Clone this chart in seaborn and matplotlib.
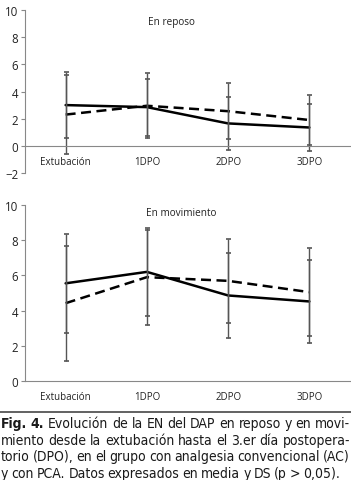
import matplotlib
matplotlib.use("Agg")
import matplotlib.pyplot as plt
import pandas as pd
import seaborn as sns

# data
categorias = ['Extubación', '1DPO', '2DPO', '3DPO']

reposo_ac = [3.0, 2.85, 1.65, 1.35]
reposo_ac_ds = [2.4, 2.1, 1.95, 1.75]
reposo_pca = [2.3, 2.95, 2.55, 1.9]
reposo_pca_ds = [2.9, 2.4, 2.08, 1.85]

mov_ac = [5.55, 6.2, 4.86, 4.52]
mov_ac_ds = [2.8, 2.48, 2.43, 2.35]
mov_pca = [4.42, 5.9, 5.69, 5.05]
mov_pca_ds = [3.26, 2.7, 2.38, 2.5]

caption = [
    'Evolución de la EN del DAP en reposo y en movi-',
    'miento desde la extubación hasta el 3.er día postopera-',
    'torio (DPO), en el grupo con analgesia convencional (AC)',
    'y con PCA. Datos expresados en media y DS (p > 0,05).',
]

sns.set_style('white')
plt.rcParams['font.family'] = ['Open Sans', 'DejaVu Sans']

W, H = 351, 481
fig = plt.figure(figsize=(W / 100, H / 100), dpi=100)


def panel(ax, ac, ac_ds, pca, pca_ds, titulo, ymin):
    df = pd.DataFrame({
        'pos': list(range(4)) * 2,
        'valor': ac + pca,
        'grupo': ['AC'] * 4 + ['PCA'] * 4,
    })
    sns.lineplot(data=df, x='pos', y='valor', style='grupo', ax=ax,
                 dashes={'AC': '', 'PCA': (4, 2.2)}, color='black',
                 linewidth=1.8, legend=False)
    for med, ds in [(ac, ac_ds), (pca, pca_ds)]:
        ax.errorbar(range(4), med, yerr=ds, fmt='none', ecolor='#555555',
                    elinewidth=1, capsize=1.8, capthick=1.2)
    ax.set_xlim(-0.5, 3.5)
    ax.set_ylim(ymin, 10)
    ax.set_yticks(range(ymin, 11, 2))
    ax.set_xticks(range(4))
    ax.set_xticklabels(categorias)
    ax.set_xticks([-0.5, 0.5, 1.5, 2.5, 3.5], minor=True)
    ax.tick_params(axis='x', which='major', length=0, pad=7, labelsize=7.0,
                   labelcolor='#222222')
    ax.tick_params(axis='x', which='minor', length=3, color='#888888', direction='out')
    ax.tick_params(axis='y', length=3, color='#888888', labelsize=8.3, pad=2,
                   left=True, labelcolor='#222222')
    ax.set_xlabel('')
    ax.set_ylabel('')
    for s in ['top', 'right']:
        ax.spines[s].set_visible(False)
    ax.spines['left'].set_color('#888888')
    ax.spines['bottom'].set_color('#888888')
    ax.spines['bottom'].set_position(('data', 0))
    ax.text(0.45 if ymin < 0 else 0.48, 0.93 if ymin < 0 else 0.96, titulo,
            transform=ax.transAxes, ha='center', va='center', fontsize=7.2,
            color='#222222')


ax1 = fig.add_axes([25 / W, (H - 174) / H, 325 / W, 163 / H])
panel(ax1, reposo_ac, reposo_ac_ds, reposo_pca, reposo_pca_ds, 'En reposo', -2)

ax2 = fig.add_axes([25 / W, (H - 382) / H, 325 / W, 176 / H])
panel(ax2, mov_ac, mov_ac_ds, mov_pca, mov_pca_ds, 'En movimiento', 0)

# separator line
fig.add_artist(plt.Line2D([0, 1], [1 - 413 / H, 1 - 413 / H], color='#555555', linewidth=1.3))

# caption, justified
cap_font = ['Liberation Sans Narrow', 'DejaVu Sans']
cap_size = 10.0
renderer = fig.canvas.get_renderer()
left_px, right_px = 1, 350
ys = [424, 441, 457, 474]
for i, linea in enumerate(caption):
    words = linea.split(' ')
    pieces = []
    if i == 0:
        pieces.append(('Fig.', 'bold'))
        pieces.append(('4.', 'bold'))
    pieces += [(w, 'normal') for w in words]
    texts = []
    for w, wt in pieces:
        t = fig.text(0, 1 - ys[i] / H, w, fontsize=cap_size, fontweight=wt,
                     family=cap_font, fontstretch='condensed',
                     color='#1a1a1a', va='center', ha='left')
        texts.append(t)
    widths = [t.get_window_extent(renderer).width for t in texts]
    if i < len(caption) - 1:
        gap = (right_px - left_px - sum(widths)) / (len(texts) - 1)
    else:
        gap = 3.0
    x = left_px
    for t, w in zip(texts, widths):
        t.set_x(x / W)
        x += w + gap

fig.savefig('out.png', dpi=100)
